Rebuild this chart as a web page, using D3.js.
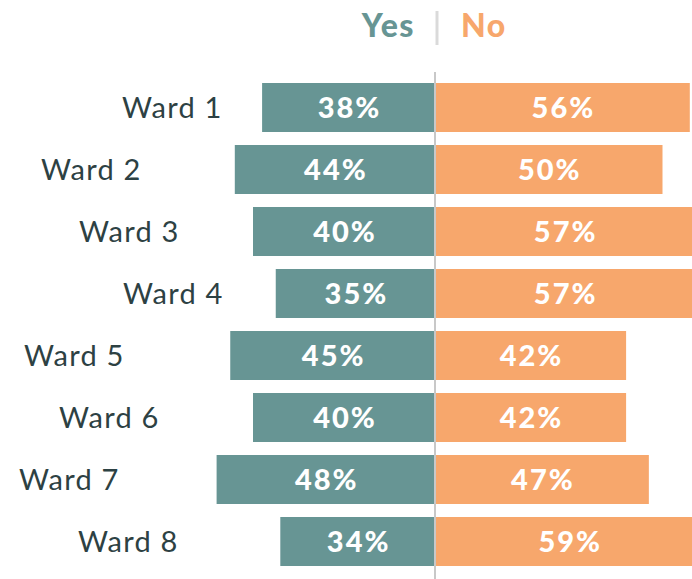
<!DOCTYPE html>
<html>
<head>
<meta charset="utf-8">
<script src="https://cdn.jsdelivr.net/npm/d3@7"></script>
<style>
  body { margin: 0; background: #fff; }
  svg { display: block; font-family: Lato, "Open Sans", sans-serif; }
</style>
</head>
<body>
<div id="chart"></div>
<script>
// data
const wards = ['Ward 1', 'Ward 2', 'Ward 3', 'Ward 4', 'Ward 5', 'Ward 6', 'Ward 7', 'Ward 8'];
const yesPct = [38, 44, 40, 35, 45, 40, 48, 34];
const noPct = [56, 50, 57, 57, 42, 42, 47, 59];

// label start offsets (layout only, px from left)
const labelLeft = [122, 41, 79, 123, 24, 59, 19, 78];

const width = 692, height = 579;
const center = 435;
const pxPerPct = 4.55;
const teal = '#679594', orange = '#f7a76c';

const svg = d3.select('#chart').append('svg')
  .attr('width', width)
  .attr('height', height);

const xYes = d3.scaleLinear().domain([0, 100]).range([center, center - 100 * pxPerPct]);
const xNo = d3.scaleLinear().domain([0, 100]).range([center, center + 100 * pxPerPct]);
const y = d3.scaleBand()
  .domain(wards)
  .range([83, 83 + 62 * wards.length - 13])
  .paddingInner(13 / 62)
  .paddingOuter(0);

const data = wards.map((w, i) => ({ ward: w, yes: yesPct[i], no: noPct[i], lx: labelLeft[i] }));

// header
svg.append('text').attr('x', 415).attr('y', 25).attr('dy', '0.36em')
  .attr('text-anchor', 'end').attr('font-size', 32).attr('font-weight', 900)
  .attr('letter-spacing', 1.5)
  .attr('fill', teal).text('Yes');
svg.append('line')
  .attr('x1', 437).attr('x2', 437).attr('y1', 11).attr('y2', 45)
  .attr('stroke', '#dadada').attr('stroke-width', 3);
svg.append('text').attr('x', 461).attr('y', 25).attr('dy', '0.36em')
  .attr('font-size', 32).attr('font-weight', 900)
  .attr('letter-spacing', 1.5)
  .attr('fill', orange).text('No');

const rows = svg.selectAll('.row')
  .data(data)
  .enter().append('g')
  .attr('class', 'row');

rows.append('rect')
  .attr('x', d => xYes(d.yes))
  .attr('y', d => y(d.ward))
  .attr('width', d => center - xYes(d.yes))
  .attr('height', y.bandwidth())
  .attr('fill', teal);

rows.append('rect')
  .attr('x', center)
  .attr('y', d => y(d.ward))
  .attr('width', d => xNo(d.no) - center)
  .attr('height', y.bandwidth())
  .attr('fill', orange);

function pctLabel(sel, xf, key) {
  sel.append('text')
    .attr('x', d => xf(d) + 1)
    .attr('y', d => y(d.ward) + y.bandwidth() / 2)
    .attr('dy', '0.36em')
    .attr('text-anchor', 'middle')
    .attr('font-size', 29)
    .attr('font-weight', 900)
    .attr('letter-spacing', 2)
    .attr('fill', '#fff')
    .text(d => d[key] + '%');
}
pctLabel(rows, d => (xYes(d.yes) + center) / 2, 'yes');
pctLabel(rows, d => (xNo(d.no) + center) / 2, 'no');

rows.append('text')
  .attr('x', d => d.lx)
  .attr('y', d => y(d.ward) + y.bandwidth() / 2)
  .attr('dy', '0.36em')
  .attr('font-size', 29)
  .attr('letter-spacing', 1.2)
  .attr('fill', '#2d4143')
  .text(d => d.ward);

// center line
svg.append('line')
  .attr('x1', center).attr('x2', center)
  .attr('y1', 72).attr('y2', height)
  .attr('stroke', '#c8c8c8').attr('stroke-width', 2);
</script>
</body>
</html>
